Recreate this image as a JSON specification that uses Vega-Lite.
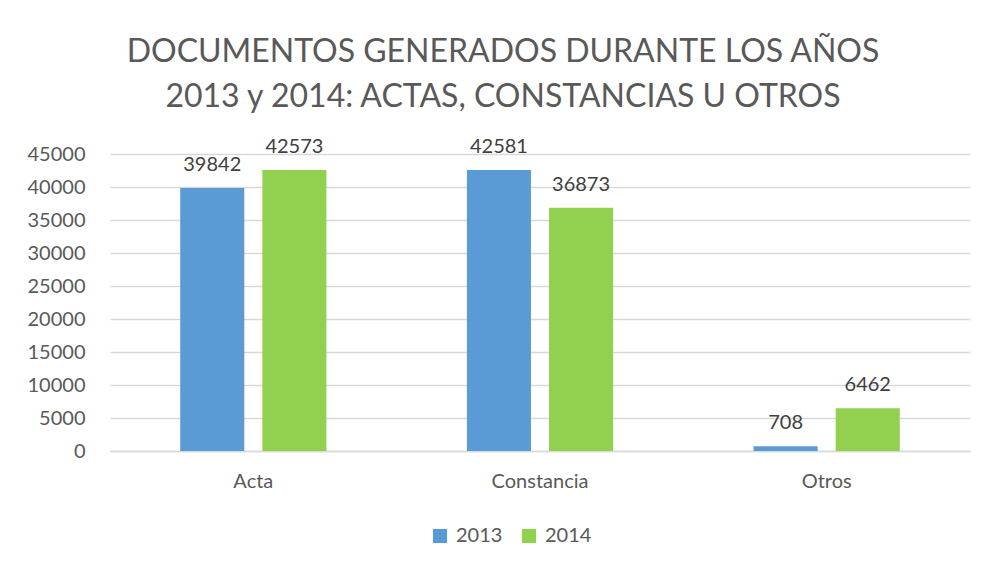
{
  "$schema": "https://vega.github.io/schema/vega-lite/v6.json",
  "width": 860,
  "height": 297,
  "autosize": {"type": "none"},
  "padding": {"left": 110, "top": 154, "right": 15, "bottom": 116},
  "background": "white",
  "config": {
    "font": "Lato",
    "view": {"stroke": null}
  },
  "title": {
    "text": ["DOCUMENTOS GENERADOS DURANTE LOS AÑOS", "2013 y 2014: ACTAS, CONSTANCIAS U OTROS"],
    "anchor": "middle",
    "frame": "group",
    "dx": -37,
    "offset": 23,
    "fontSize": 32,
    "fontWeight": "normal",
    "color": "#595959",
    "lineHeight": 45
  },
  "data": {
    "values": [
      {"tipo": "Acta", "anio": "2013", "valor": 39842},
      {"tipo": "Acta", "anio": "2014", "valor": 42573},
      {"tipo": "Constancia", "anio": "2013", "valor": 42581},
      {"tipo": "Constancia", "anio": "2014", "valor": 36873},
      {"tipo": "Otros", "anio": "2013", "valor": 708},
      {"tipo": "Otros", "anio": "2014", "valor": 6462}
    ]
  },
  "encoding": {
    "x": {
      "field": "tipo",
      "type": "nominal",
      "sort": null,
      "title": null,
      "scale": {"paddingInner": 0.49, "paddingOuter": 0.245},
      "axis": {
        "labelAngle": 0,
        "labelFontSize": 20,
        "labelColor": "#595959",
        "labelPadding": 20,
        "ticks": false,
        "domainColor": "#D9D9D9",
        "domainWidth": 1.3
      }
    },
    "xOffset": {
      "field": "anio",
      "type": "nominal",
      "scale": {"paddingInner": 0.22, "paddingOuter": 0}
    },
    "y": {
      "field": "valor",
      "type": "quantitative",
      "title": null,
      "scale": {"domain": [0, 45000], "nice": false},
      "axis": {
        "values": [0, 5000, 10000, 15000, 20000, 25000, 30000, 35000, 40000, 45000],
        "format": "d",
        "labelFontSize": 20,
        "labelColor": "#595959",
        "labelPadding": 25,
        "ticks": false,
        "domain": false,
        "gridColor": "#D9D9D9",
        "gridWidth": 1.3
      }
    }
  },
  "layer": [
    {
      "mark": {"type": "bar"},
      "encoding": {
        "color": {
          "field": "anio",
          "type": "nominal",
          "title": null,
          "scale": {"domain": ["2013", "2014"], "range": ["#5B9BD5", "#92D050"]},
          "legend": {
            "orient": "none",
            "direction": "horizontal",
            "legendX": 320,
            "legendY": 372,
            "symbolType": "square",
            "symbolSize": 200,
            "symbolStrokeWidth": 0,
            "labelFontSize": 20,
            "labelColor": "#595959",
            "columnPadding": 16,
            "labelOffset": 6
          }
        }
      }
    },
    {
      "mark": {"type": "text", "baseline": "alphabetic", "dy": -17, "fontSize": 20, "color": "#404040"},
      "encoding": {
        "text": {"field": "valor", "type": "quantitative", "format": "d"}
      }
    }
  ]
}
